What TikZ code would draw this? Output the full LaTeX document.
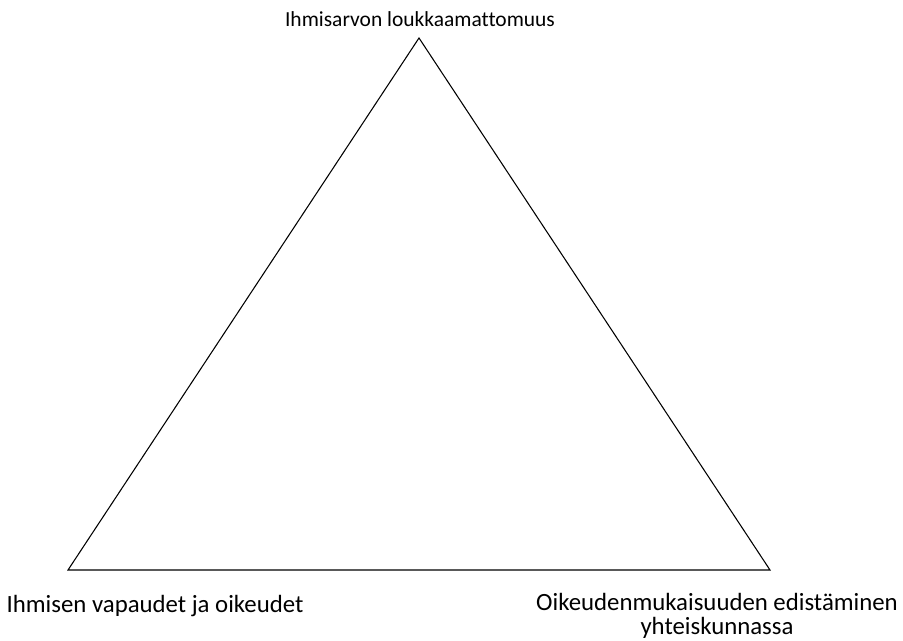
\documentclass[tikz,border=0pt]{standalone}
\usepackage{fontspec}
\setmainfont[Ligatures=NoCommon]{Carlito}
\usetikzlibrary{positioning}
\begin{document}
\begin{tikzpicture}[x=0.75pt,y=-0.75pt,
  label/.style={font=\fontsize{16.1}{19.5}\selectfont,inner sep=0pt,align=center},
  biglabel/.style={label,font=\fontsize{18.6}{18.5}\selectfont}]
\useasboundingbox (0,0) rectangle (903,641);
% corners of the triangle
\coordinate (top) at (419,38);
\coordinate (left) at (68,570);
\coordinate (right) at (770,570);
\draw[line width=0.8pt] (top) -- (left) -- (right) -- cycle;
% labels
\node[label] (arvo) at (420,19) {Ihmisarvon loukkaamattomuus};
\node[biglabel] (vapaus) at (155,606) {Ihmisen vapaudet ja oikeudet};
\node[biglabel] (oikeus) at (717,616) {Oikeudenmukaisuuden edistäminen\\yhteiskunnassa};
\end{tikzpicture}
\end{document}
